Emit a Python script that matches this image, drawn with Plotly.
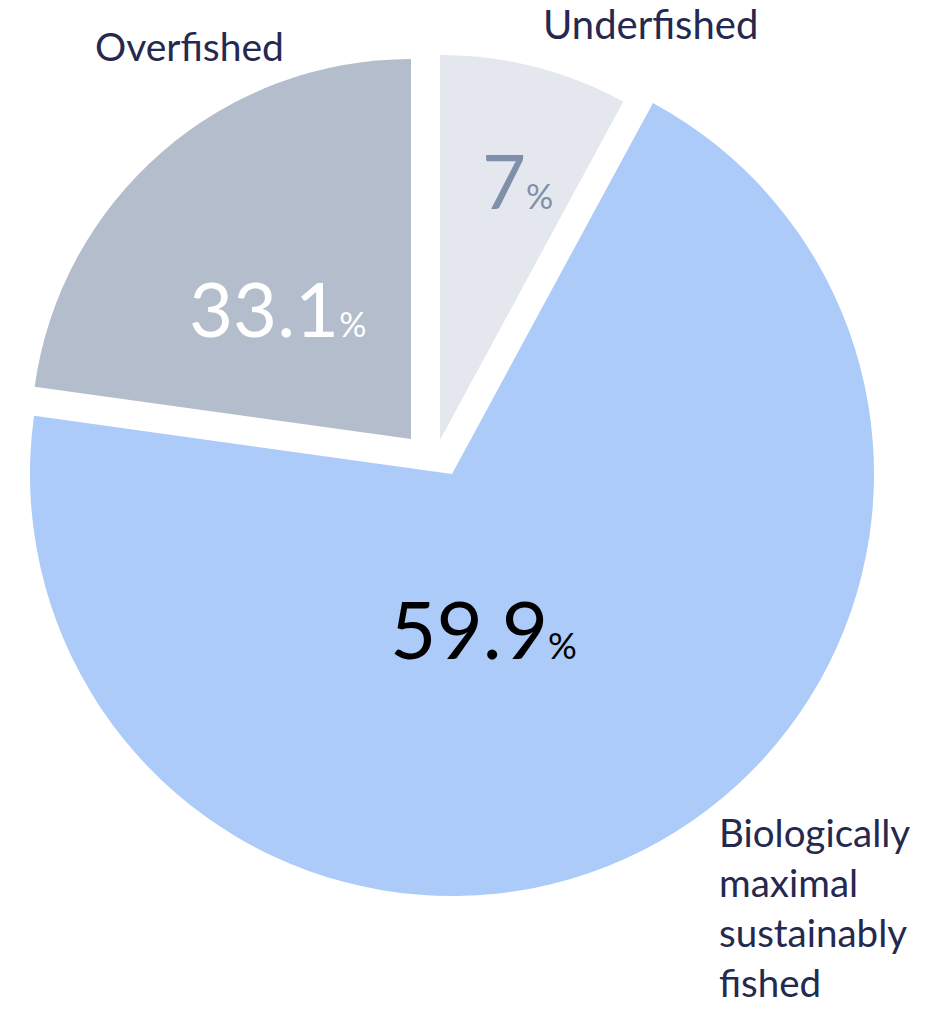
import plotly.graph_objects as go

# ---- data -------------------------------------------------------------
categories = ["Underfished", "Biologically maximal sustainably fished", "Overfished"]
label_lines = ["Underfished", "Biologically<br>maximal<br>sustainably<br>fished", "Overfished"]
shares_pct = [7, 59.9, 33.1]          # percentages printed on the chart
# slice sizes as actually drawn in the reference (angles;
# the reference graphic is not drawn proportionally to its printed values)
drawn_shares = [7.9, 69.3, 22.8]
colors = ["#E4E8EE", "#ADCBF8", "#B4BDCB"]
value_colors = ["#8090AA", "#000000", "#FFFFFF"]

# ---- layout helpers ---------------------------------------------------
W, H = 930, 1009
# each slice is its own pie (centre x, centre y, radius in px) so it can be exploded
slice_geom = [(440, 440, 385), (452, 474, 422), (411, 439, 380)]

fig = go.Figure()
for i, (cx, cy, r) in enumerate(slice_geom):
    mcolors = [colors[j] if j == i else "rgba(0,0,0,0)" for j in range(len(categories))]
    fig.add_trace(go.Pie(
        labels=categories,
        values=drawn_shares,
        sort=False,
        direction="clockwise",
        rotation=0,
        marker=dict(colors=mcolors, line=dict(width=0)),
        textinfo="none",
        hoverinfo="skip",
        showlegend=False,
        domain=dict(x=[(cx - r) / W, (cx + r) / W],
                    y=[1 - (cy + r) / H, 1 - (cy - r) / H]),
    ))

FONT = "Lato"
label_color = "#25284F"


def px(x, y):
    return x / W, 1 - y / H


annotations = []
# category labels: (left x, centre y, font size)
label_pos = [(541, 24, 40), (717, 907, 38.5), (93, 46, 39)]
for i, (x, y, s) in enumerate(label_pos):
    ax, ay = px(x, y)
    annotations.append(dict(x=ax, y=ay, xref="paper", yref="paper", xanchor="left", yanchor="middle",
                            text=label_lines[i], showarrow=False, align="left",
                            font=dict(family=FONT, size=s, color=label_color)))

# value labels
value_pos = [(517, 180, 76), (483, 628, 80), (277, 308, 76)]
for i, (x, y, s) in enumerate(value_pos):
    ax, ay = px(x, y)
    v = shares_pct[i]
    txt = f"{v:g}<span style='font-size:{int(s*0.45)}px'>%</span>"
    annotations.append(dict(x=ax, y=ay, xref="paper", yref="paper", xanchor="center", yanchor="middle",
                            text=txt, showarrow=False,
                            font=dict(family=FONT, size=s, color=value_colors[i])))

fig.update_layout(
    width=W, height=H,
    margin=dict(l=0, r=0, t=0, b=0),
    paper_bgcolor="white", plot_bgcolor="white",
    annotations=annotations,
)

fig.write_html("out.html")
